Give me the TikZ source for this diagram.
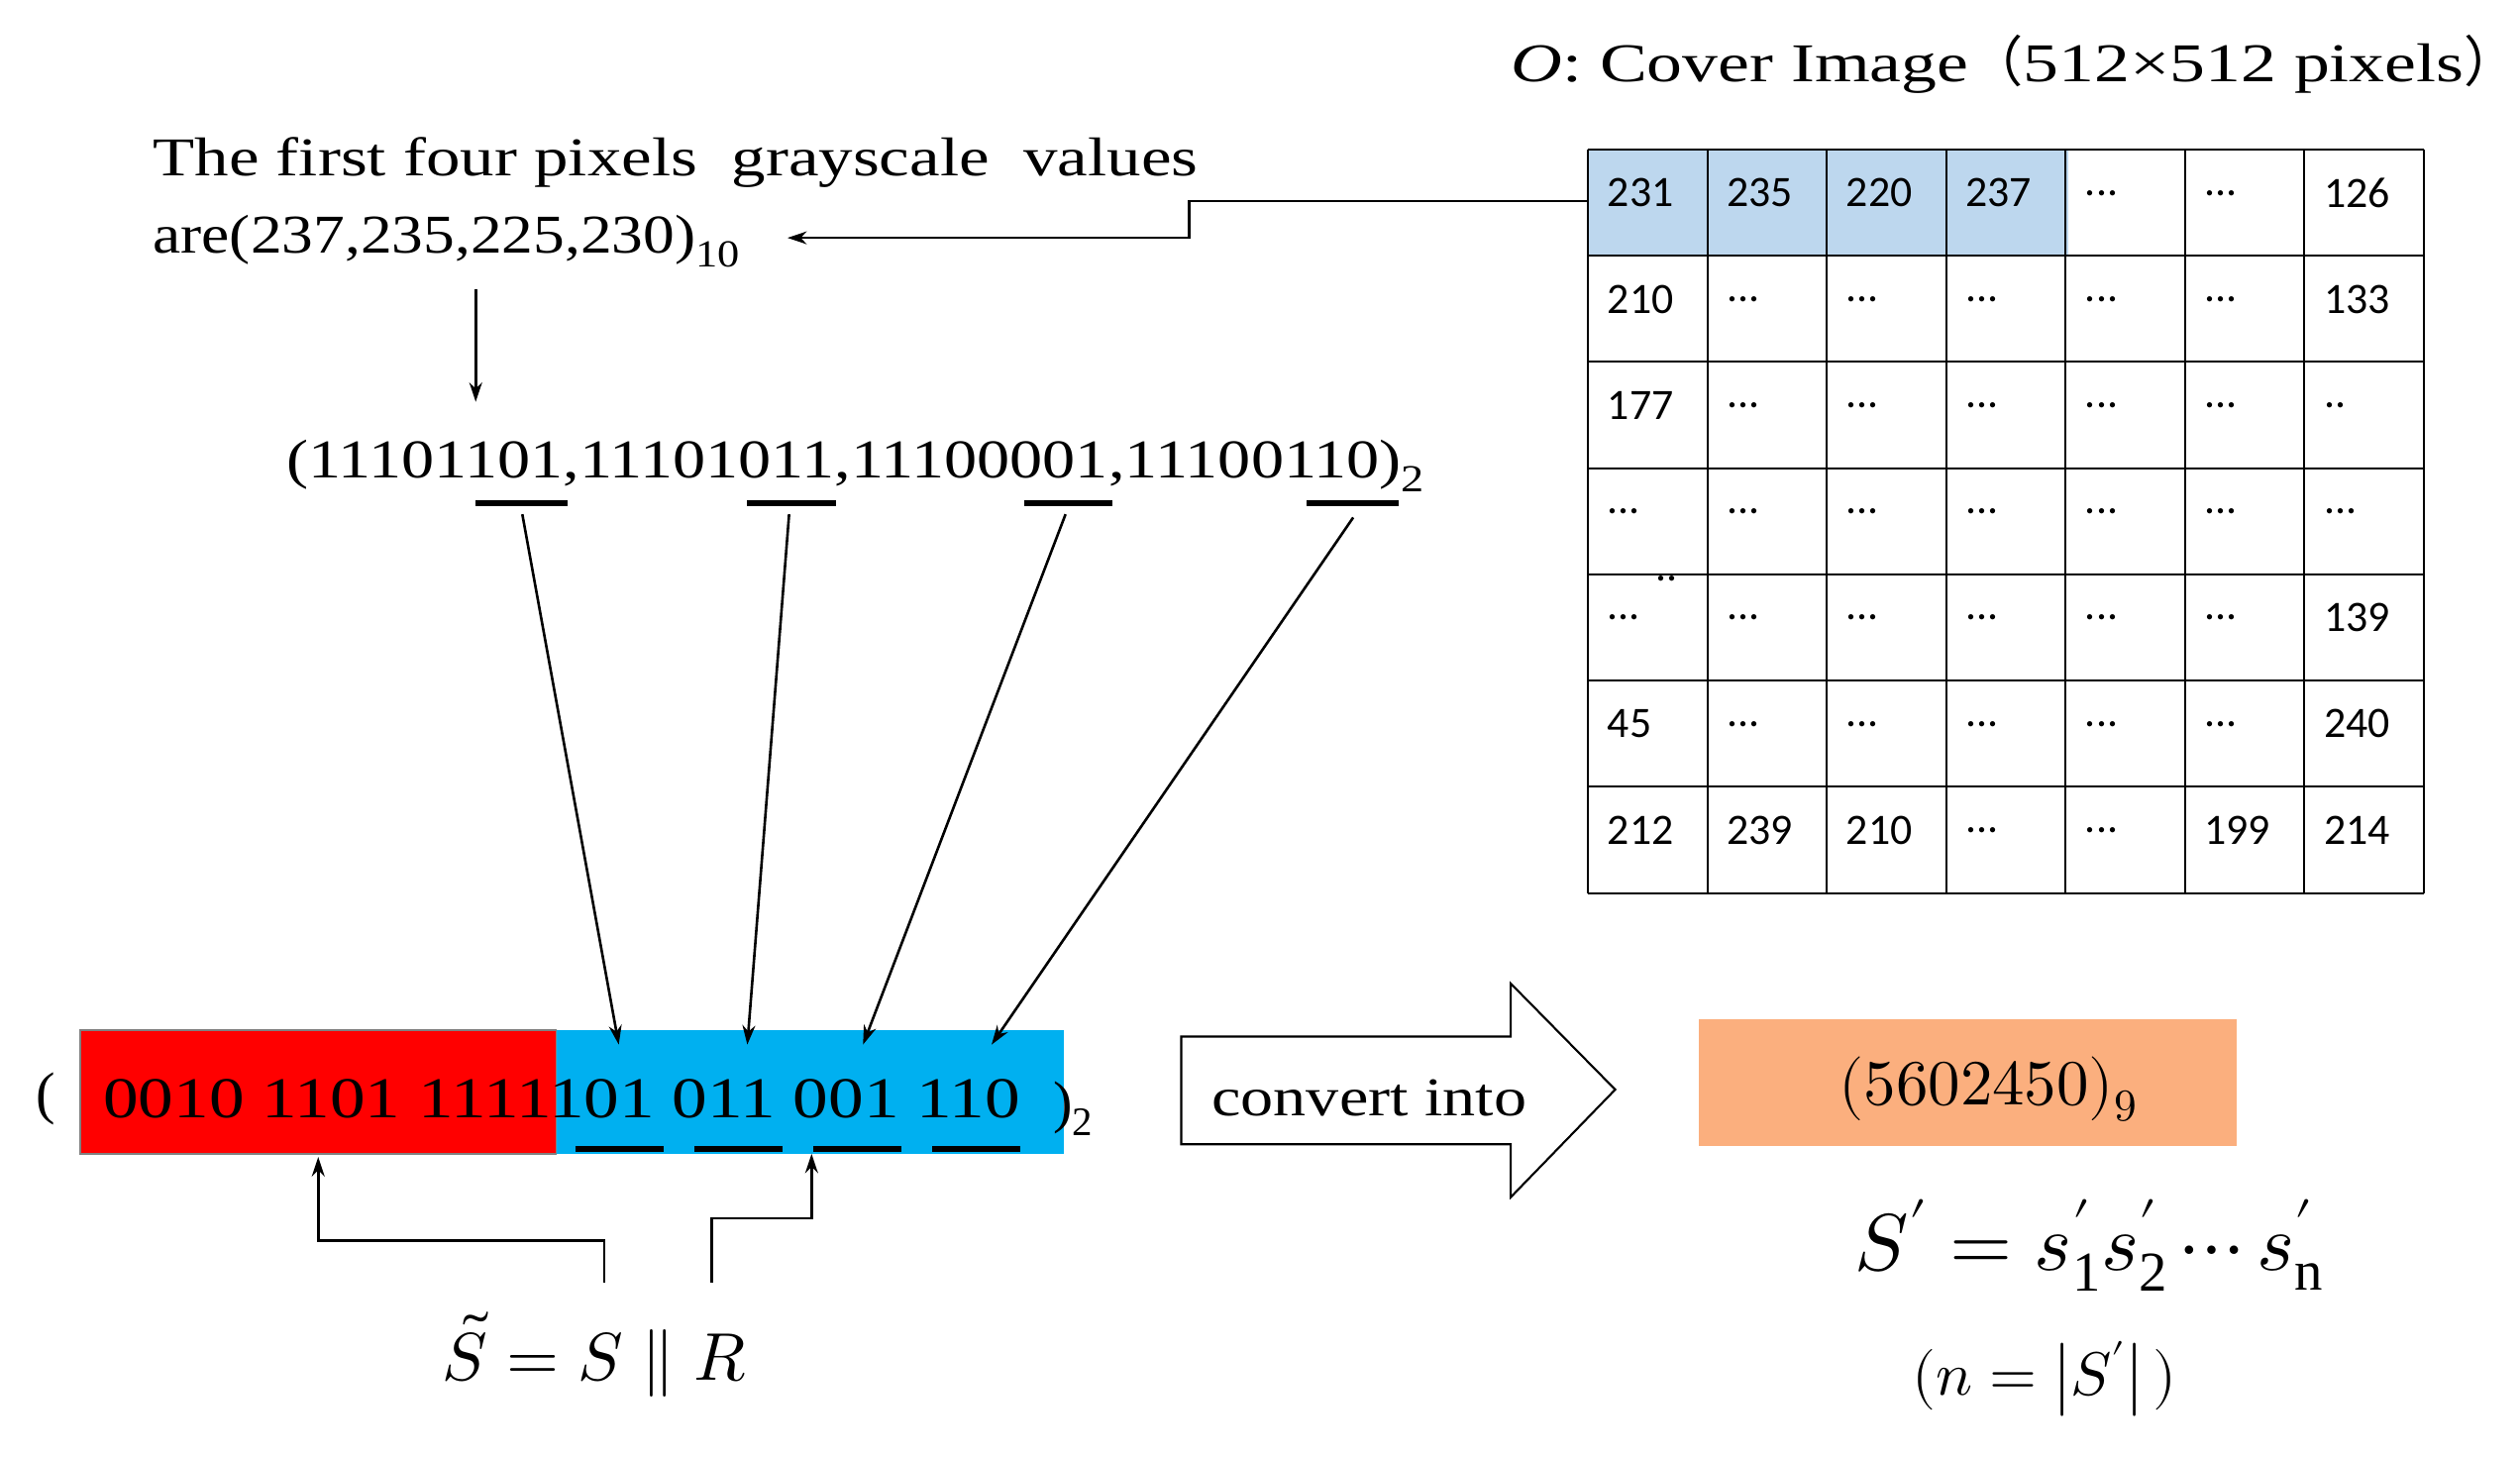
\documentclass[tikz,border=0pt]{standalone}
\usepackage{fontspec}
\usepackage{unicode-math}
\setmainfont{Liberation Serif}
\setmathfont{Latin Modern Math}
\newfontfamily\cel{Carlito}
\newfontfamily\cjk{Noto Sans CJK SC}
\usetikzlibrary{arrows.meta,shapes.arrows}
\definecolor{lblue}{RGB}{189,215,238}
\definecolor{cyanb}{RGB}{0,176,240}
\definecolor{orng}{RGB}{251,175,126}
\newcommand\myel{...}
\newcommand\wide[1]{\scalebox{1.25}[1]{#1}}
\begin{document}
\begin{tikzpicture}[x=1pt,y=-1pt,
  cell/.style={anchor=west,font=\cel\fontsize{27}{30}\selectfont,inner sep=0},
  arr/.style={-{Stealth[length=12pt,width=8pt]},line width=1.6pt},
  ln/.style={line width=1.6pt},
  ul/.style={line width=4pt},
  txt/.style={anchor=west,font=\fontsize{34}{40}\selectfont,inner sep=0}]
\useasboundingbox (0,0) rectangle (1568,907);
\node[txt] (title) at (940,40) {\scalebox{1.3}[1]{\textit{O}: Cover Image}{\cjk （}\scalebox{1.3}[1]{512×512 pixels}{\cjk ）}};
% table
\fill[lblue] (988,93) rectangle (1287,159);
\foreach \i in {0,...,7}{
  \draw[line width=1.2pt] ({988+\i*74.3},93) -- ({988+\i*74.3},556);
  \draw[line width=1.2pt] (988,{93+\i*66.1}) -- (1508,{93+\i*66.1});
}
\coordinate (tl) at (988,125);
\foreach \r/\row in {0/{231,235,220,237,\myel,\myel,126},1/{210,\myel,\myel,\myel,\myel,\myel,133},2/{177,\myel,\myel,\myel,\myel,\myel,..},3/{\myel,\myel,\myel,\myel,\myel,\myel,\myel},4/{\myel,\myel,\myel,\myel,\myel,\myel,139},5/{45,\myel,\myel,\myel,\myel,\myel,240},6/{212,239,210,\myel,\myel,199,214}}{
  \foreach \v [count=\c from 0] in \row {
    \node[cell] (c\r\c) at ({1000+\c*74.3},{120+\r*66.1}) {\v};
  }
}
\node[cell] (dd) at (1030,360) {..};
% text
\node[txt] (t1) at (95,101) {\wide{The first four pixels \ grayscale \ values}};
\node[txt] (t2) at (95,150) {\scalebox{1.15}[1]{are(237,235,225,230)\textsubscript{10}}};
\coordinate (t2e) at (490,148);
\draw[ln,-{Stealth[length=12pt,width=8pt]}] (tl) -- (740,125) -- (740,148) -- (t2e);
\coordinate (a1) at (296,180); \coordinate (a2) at (296,250);
\draw[arr] (a1) -- (a2);
\node[txt] (bin) at (178,290) {\scalebox{1.2}[1]{(11101101,11101011,11100001,11100110)\textsubscript{2}}};
\foreach \a/\b in {296/353,465/520,637/692,813/870}{\draw[ul] (\a,313) -- (\b,313);}
% bar
\fill[red] (50,641) rectangle (346,718);
\fill[cyanb] (346,641) rectangle (662,718);
\draw[gray,line width=1pt] (50,641) rectangle (346,718);
\node[txt,font=\fontsize{36}{40}\selectfont] (lp) at (22,684) {(};
\node[txt,font=\fontsize{36}{40}\selectfont] (bits) at (64,684) {\scalebox{1.22}[1]{0010 1101 1111101 011 001 110}};
\node[txt,font=\fontsize{36}{40}\selectfont] (rp) at (655,690) {)\textsubscript{2}};
\foreach \a/\b in {358/413,432/487,506/561,580/635}{\draw[ul] (\a,715) -- (\b,715);}
\foreach \s/\e in {{325,320}/{385,650},{491,320}/{465,650},{663,320}/{537,650},{842,322}/{617,650}}{
  \draw[arr] (\s) -- (\e);}
% S tilde
\node[font=\fontsize{42}{46}\selectfont] (st) at (370,843) {$\tilde{S}=S\parallel R$};
\draw[arr] (376,798) -- (376,772) -- (198,772) -- (198,720);
\draw[arr] (443,798) -- (443,758) -- (505,758) -- (505,718);
% big arrow
\draw[line width=1.3pt] (735,645) -- (940,645) -- (940,612) -- (1005,678) -- (940,745) -- (940,712) -- (735,712) -- cycle;
\node[font=\fontsize{34}{40}\selectfont] (conv) at (852,683) {\scalebox{1.2}[1]{convert into}};
\fill[orng] (1057,634) rectangle (1392,713);
\node[font=\fontsize{40}{44}\selectfont] (res) at (1237,678) {$(5602450)_9$};
\node[font=\fontsize{50}{54}\selectfont] (sp) at (1300,775) {$S'=s'_{\mathrm{1}}s'_{\mathrm{2}}\cdots s'_{\mathrm{n}}$};
\node[font=\fontsize{38}{42}\selectfont] (nn) at (1272,858) {$(n=\bigl|S'\bigr|\,)$};
\end{tikzpicture}
\end{document}
